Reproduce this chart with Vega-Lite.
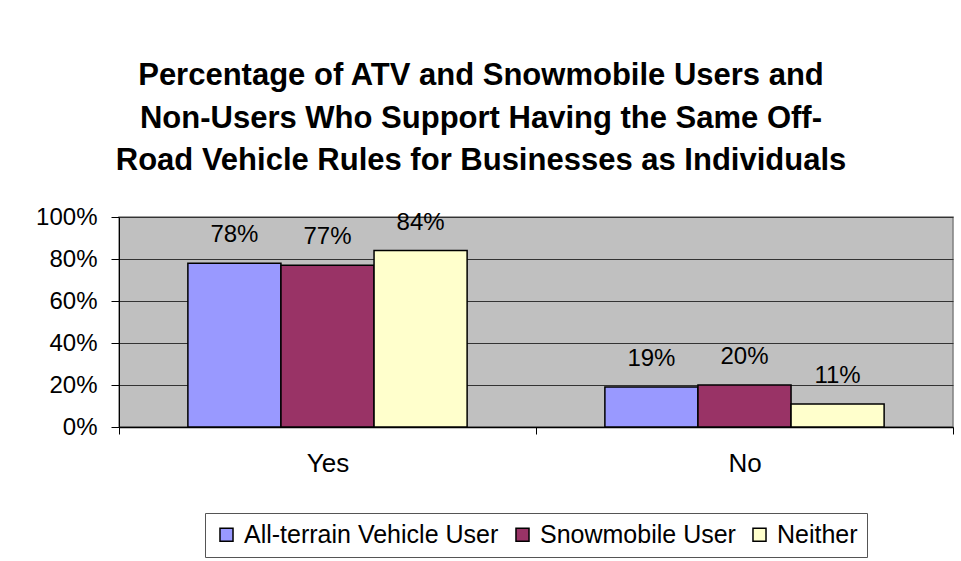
{
  "$schema": "https://vega.github.io/schema/vega-lite/v6.json",
  "width": 834,
  "height": 210,
  "autosize": {"type": "none"},
  "padding": {"left": 119, "top": 217, "right": 8, "bottom": 134},
  "background": "white",
  "config": {
    "font": "Liberation Sans",
    "view": {"fill": "#C0C0C0", "stroke": "#808080", "strokeWidth": 1.5}
  },
  "title": {
    "text": ["Percentage of ATV and Snowmobile Users and", "Non-Users Who Support Having the Same Off-", "Road Vehicle Rules for Businesses as Individuals"],
    "fontSize": 31,
    "fontWeight": "bold",
    "color": "black",
    "lineHeight": 42.5,
    "anchor": "middle",
    "frame": "group",
    "dx": -55,
    "offset": 28
  },
  "data": {
    "values": [
      {"answer": "Yes", "group": "All-terrain Vehicle User", "value": 0.78},
      {"answer": "Yes", "group": "Snowmobile User", "value": 0.77},
      {"answer": "Yes", "group": "Neither", "value": 0.84},
      {"answer": "No", "group": "All-terrain Vehicle User", "value": 0.19},
      {"answer": "No", "group": "Snowmobile User", "value": 0.20},
      {"answer": "No", "group": "Neither", "value": 0.11}
    ]
  },
  "encoding": {
    "x": {
      "field": "answer",
      "type": "nominal",
      "sort": ["Yes", "No"],
      "scale": {"paddingInner": 0, "paddingOuter": 0},
      "axis": {
        "title": null,
        "labelAngle": 0,
        "labelFontSize": 26,
        "labelColor": "black",
        "labelPadding": 16,
        "tickBand": "extent",
        "tickSize": 7,
        "tickColor": "black",
        "domainColor": "black",
        "domainWidth": 1.5,
        "grid": false
      }
    },
    "xOffset": {
      "field": "group",
      "type": "nominal",
      "sort": ["All-terrain Vehicle User", "Snowmobile User", "Neither"],
      "scale": {"paddingInner": 0, "paddingOuter": 0.74}
    },
    "y": {
      "field": "value",
      "type": "quantitative",
      "scale": {"domain": [0, 1], "nice": false},
      "axis": {
        "title": null,
        "format": ".0%",
        "values": [0, 0.2, 0.4, 0.6, 0.8, 1],
        "labelFontSize": 24,
        "labelColor": "black",
        "labelPadding": 14,
        "tickSize": 8,
        "tickColor": "black",
        "domainColor": "black",
        "grid": true,
        "gridColor": "#333333",
        "gridWidth": 1
      }
    }
  },
  "layer": [
    {
      "mark": {"type": "bar", "stroke": "black", "strokeWidth": 1.5},
      "encoding": {
        "color": {
          "field": "group",
          "type": "nominal",
          "sort": ["All-terrain Vehicle User", "Snowmobile User", "Neither"],
          "scale": {"domain": ["All-terrain Vehicle User", "Snowmobile User", "Neither"], "range": ["#9999FF", "#993366", "#FFFFCC"]},
          "legend": {
            "title": null,
            "orient": "none",
            "legendX": 86,
            "legendY": 296,
            "direction": "horizontal",
            "labelFontSize": 25,
            "labelColor": "black",
            "labelLimit": 400,
            "labelOffset": 5,
            "symbolType": "square",
            "symbolSize": 170,
            "symbolStrokeColor": "black",
            "symbolStrokeWidth": 1.5,
            "symbolOpacity": 1,
            "strokeColor": "#555555",
            "fillColor": "white",
            "padding": 9,
            "columnPadding": 11
          }
        }
      }
    },
    {
      "mark": {"type": "text", "fontSize": 24, "color": "black", "baseline": "alphabetic", "dy": -21},
      "encoding": {
        "text": {"field": "value", "type": "quantitative", "format": ".0%"}
      }
    }
  ]
}
